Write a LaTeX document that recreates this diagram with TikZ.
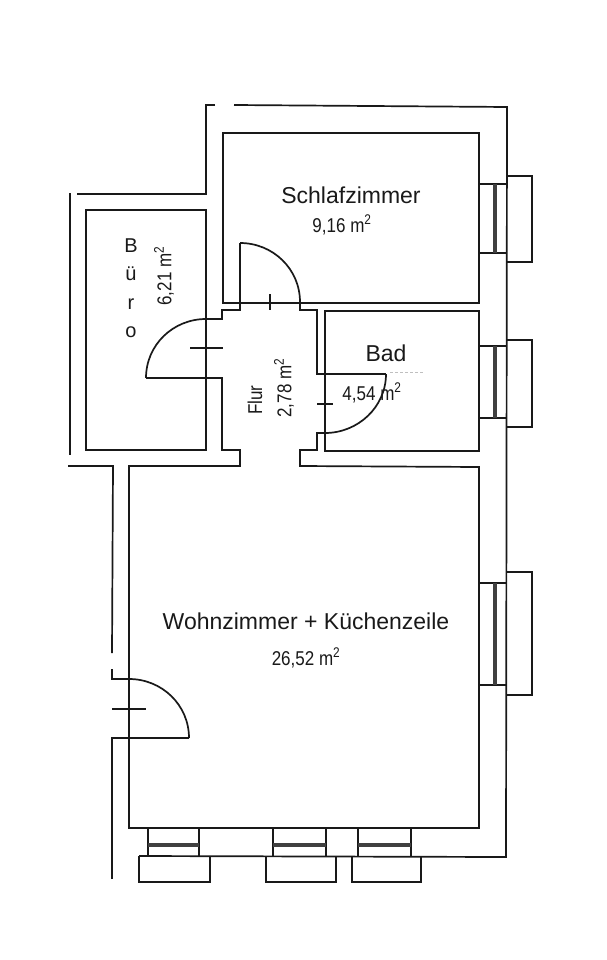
\documentclass[tikz,border=0pt]{standalone}
\usepackage{fontspec}
\setmainfont{Liberation Sans}

\begin{document}
\begin{tikzpicture}[x=1pt,y=-1pt,
    wall/.style={line width=1.7pt,color=black!90,line join=miter},
    thin wall/.style={line width=1.5pt,color=black!90},
    glass/.style={line width=3.6pt,color=black!75},
    room/.style={font=\fontsize{23}{26}\selectfont,color=black!90,inner sep=0pt},
    area/.style={font=\fontsize{20}{22}\selectfont,color=black!90,inner sep=0pt}]
    % fixed frame of the picture
    \useasboundingbox (0,0) rectangle (607,960);

    % --- outer walls ---
    \draw[wall] (215,105) -- (206,105) -- (206,194) -- (77,194);
    \draw[wall] (234,105) -- (507,107) -- (506,857) -- (139,856);
    \draw[wall] (70,193) -- (70,455);
    \draw[wall] (68,466) -- (113,466) -- (112,653);
    \draw[wall] (112,669) -- (112,679) -- (129,679);
    \draw[wall] (112,879) -- (112,738) -- (189,738);

    % --- inner outline: living room, hall ---
    \draw[wall] (129,679) -- (129,466) -- (240,466) -- (240,450) -- (222,450)
        -- (222,378) -- (146,378);
    \draw[wall] (206,319) -- (222,319) -- (222,310) -- (240,310) -- (240,243);
    \draw[wall] (300,302) -- (300,310) -- (317,310) -- (317,374) -- (386,374);
    \draw[wall] (325,433) -- (317,433) -- (317,450) -- (300,450) -- (300,466)
        -- (479,467) -- (479,828) -- (129,828) -- (129,679);

    % --- rooms ---
    \draw[wall] (86,210) rectangle (206,450);
    \draw[wall] (223,133) rectangle (479,303);
    \draw[wall] (325,311) rectangle (479,451);

    % --- doors ---
    \draw[wall] (146,378) .. controls (146,345) and (173,319) .. (206,319);
    \draw[wall] (240,243) .. controls (273,243) and (300,269) .. (300,302);
    \draw[wall] (386,374) .. controls (386,407) and (358,433) .. (325,433);
    \draw[wall] (129,679) .. controls (162,679) and (189,705) .. (189,738);
    \draw[thin wall] (190,348) -- (223,348);
    \draw[thin wall] (270,294) -- (270,310);
    \draw[thin wall] (317,404) -- (333,404);
    \draw[thin wall] (112,709) -- (146,709);

    % --- windows on the right: top/bottom of opening, top/bottom of sill ---
    \foreach \wa/\wb/\sa/\sb in {184/253/176/262, 346/418/340/427, 583/685/572/695} {
        \draw[thin wall] (479,\wa) -- (506,\wa);
        \draw[thin wall] (479,\wb) -- (506,\wb);
        \draw[glass] (495,\wa) -- (495,\wb);
        \draw[wall] (506,\sa) -- (532,\sa) -- (532,\sb) -- (506,\sb);
    }

    % --- windows at the bottom: left/right of opening, left/right of sill ---
    \foreach \wa/\wb/\sa/\sb in {148/199/139/210, 273/326/266/336, 358/411/352/421} {
        \draw[thin wall] (\wa,828) -- (\wa,856);
        \draw[thin wall] (\wb,828) -- (\wb,856);
        \draw[glass] (\wa,845) -- (\wb,845);
        \draw[wall] (\sa,856) -- (\sa,882) -- (\sb,882) -- (\sb,856);
    }

    % --- labels ---
    \node[room] (schlaf) at (351,195) {Schlafzimmer};
    \node[area,xscale=.85] (schlafm) at (342,225) {9,16 m\textsuperscript{2}};
    \node[room,align=center,font=\fontsize{20}{28.5}\selectfont] (buero) at (131,288) {B\\ü\\r\\o};
    \node[area,rotate=90,xscale=.85] (bueroM) at (164,276) {6,21 m\textsuperscript{2}};
    \node[area,rotate=90,xscale=.85] (flur) at (255,400) {Flur};
    \node[area,rotate=90,xscale=.85] (flurm) at (284,388) {2,78 m\textsuperscript{2}};
    \node[room] (bad) at (386,353) {Bad};
    \node[area,xscale=.85] (badm) at (372,393) {4,54 m\textsuperscript{2}};
    \node[room] (wohn) at (306,621) {Wohnzimmer + Küchenzeile};
    \node[area,xscale=.85] (wohnm) at (306,658) {26,52 m\textsuperscript{2}};

    % faint trace right of the door
    \draw[densely dashed,color=black!25,line width=.6pt] (390,372) -- (424,372);
\end{tikzpicture}
\end{document}
